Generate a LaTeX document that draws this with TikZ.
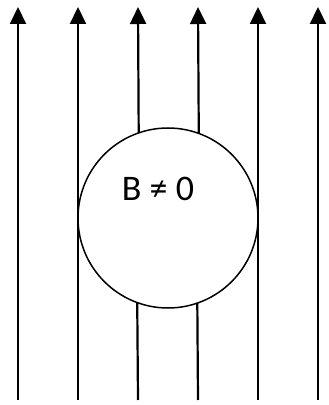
\documentclass[tikz,border=0pt]{standalone}
\usepackage{fontspec}
\setmainfont{Carlito}
\usetikzlibrary{arrows.meta}

\begin{document}
\begin{tikzpicture}[x=1pt,y=1pt,>={Triangle[length=17pt,width=16pt]},
  field/.style={line width=2.2pt,->},
  fieldplain/.style={line width=2.2pt},
  ball/.style={circle,draw,line width=1.5pt,minimum size=180pt,inner sep=0pt,outer sep=0pt}]
\useasboundingbox (0,0) rectangle (329,405);
\node[ball] (ball) at (168,187) {};
\node[font=\fontsize{36}{42}\selectfont] (lbl) at (158,216) {B ≠ 0};
% outer field lines
\foreach \x/\n in {18/a,78/b,258/e,318/f}{
  \coordinate (\n0) at (\x,5);
  \coordinate (\n1) at (\x,398);
  \draw[field] (\n0) -- (\n1);
}
% lines cut by the ball
\coordinate (c0) at (138,5);
\coordinate (c1) at (138,398);
\coordinate (d0) at (198,5);
\coordinate (d1) at (198,398);
\draw[fieldplain] (c0) -- (ball.250.53);
\draw[field] (ball.109.47) -- (c1);
\draw[fieldplain] (d0) -- (ball.289.47);
\draw[field] (ball.70.53) -- (d1);
\end{tikzpicture}
\end{document}
